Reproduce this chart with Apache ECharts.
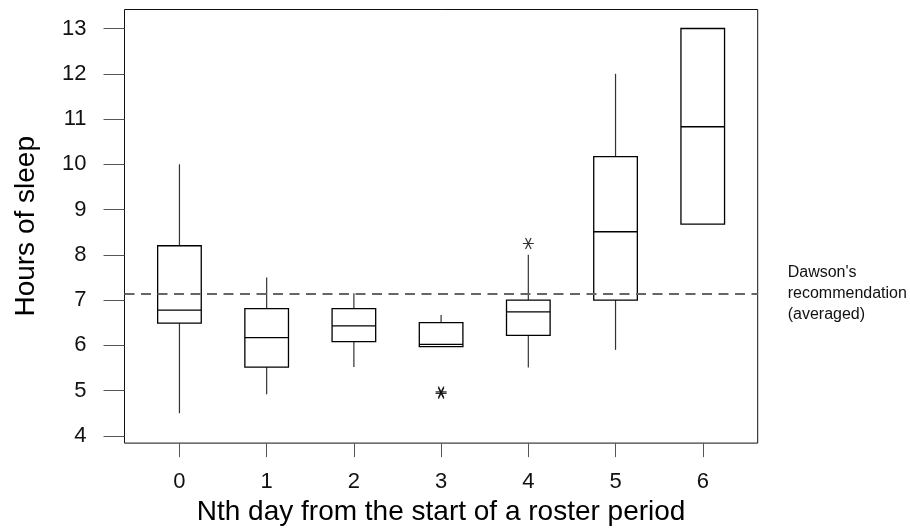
<!DOCTYPE html>
<html>
<head>
<meta charset="utf-8">
<script src="https://cdn.jsdelivr.net/npm/echarts@6/dist/echarts.min.js"></script>
<style>
  html, body { margin: 0; padding: 0; background: #fff; }
  #chart { width: 910px; height: 531px; }
</style>
</head>
<body>
<div id="chart"></div>
<script>
// box plot summaries (hours of sleep)
const days = [0, 1, 2, 3, 4, 5, 6]
const minVals = [4.5, 4.92, 5.52, 5.97, 5.51, 5.9, 8.68]
const q1Vals = [6.49, 5.52, 6.08, 5.97, 6.22, 7.0, 8.68]
const medianVals = [6.78, 6.17, 6.43, 6.02, 6.74, 8.51, 10.83]
const q3Vals = [8.2, 6.81, 6.81, 6.5, 7.0, 10.17, 13.0]
const maxVals = [10.0, 7.5, 7.15, 6.67, 8.0, 12.0, 13.0]
const outlierDays = [3, 3, 4]
const outlierVals = [4.94, 4.97, 8.25]
const recommendation = 7.14
const yTicks = [4, 5, 6, 7, 8, 9, 10, 11, 12, 13]

const font = 'Liberation Sans, Arial, sans-serif'
const boxData = days.map((d, i) => [d, minVals[i], q1Vals[i], medianVals[i], q3Vals[i], maxVals[i]])
const outlierData = outlierDays.map((d, i) => [d, outlierVals[i]])

// asterisk marker for outliers
const asterisk = 'path://M0 5 L10 5 M2.5 0.7 L7.5 9.3 M2.5 9.3 L7.5 0.7'

function renderBox (params, api) {
  const x = api.value(0)
  const lo = api.coord([x, api.value(1)])
  const q1 = api.coord([x, api.value(2)])
  const md = api.coord([x, api.value(3)])
  const q3 = api.coord([x, api.value(4)])
  const hi = api.coord([x, api.value(5)])
  const half = api.size([1, 0])[0] * 0.25
  const whisker = { stroke: '#333', lineWidth: 1.2 }
  const edge = { stroke: '#000', lineWidth: 1.3, fill: 'none' }
  return {
    type: 'group',
    children: [
      { type: 'line', shape: { x1: lo[0], y1: lo[1], x2: q1[0], y2: q1[1] }, style: whisker },
      { type: 'line', shape: { x1: q3[0], y1: q3[1], x2: hi[0], y2: hi[1] }, style: whisker },
      { type: 'rect', shape: { x: q1[0] - half, y: q3[1], width: half * 2, height: q1[1] - q3[1] }, style: edge },
      { type: 'line', shape: { x1: md[0] - half, y1: md[1], x2: md[0] + half, y2: md[1] }, style: edge }
    ]
  }
}

const option = {
  animation: false,
  backgroundColor: '#fff',
  textStyle: { fontFamily: font },
  grid: {
    left: 124.5,
    right: 152.3,
    top: 9.5,
    bottom: 87.7,
    show: true,
    borderColor: '#111',
    borderWidth: 1
  },
  xAxis: {
    type: 'value',
    min: -0.63,
    max: 6.63,
    name: 'Nth day from the start of a roster period',
    nameLocation: 'middle',
    nameGap: 52,
    nameTextStyle: { fontSize: 28, color: '#000', fontFamily: font },
    axisLine: { show: false, onZero: false },
    axisTick: { show: true, customValues: days, length: 14, lineStyle: { color: '#555', width: 1 } },
    axisLabel: { customValues: days, margin: 28, fontSize: 22, color: '#111', fontFamily: font },
    splitLine: { show: false }
  },
  yAxis: {
    type: 'value',
    min: 3.84,
    max: 13.42,
    name: 'Hours of sleep',
    nameLocation: 'middle',
    nameGap: 84,
    nameTextStyle: { fontSize: 28, color: '#000', fontFamily: font },
    axisLine: { show: false, onZero: false },
    axisTick: { show: true, customValues: yTicks, length: 21, lineStyle: { color: '#555', width: 1 } },
    axisLabel: { customValues: yTicks, margin: 38, fontSize: 22, color: '#111', fontFamily: font },
    splitLine: { show: false }
  },
  series: [
    {
      type: 'custom',
      name: 'sleep',
      renderItem: renderBox,
      encode: { x: 0, y: [1, 2, 3, 4, 5] },
      data: boxData,
      silent: true
    },
    {
      type: 'scatter',
      name: 'outliers',
      data: outlierData,
      symbol: asterisk,
      symbolSize: 11,
      itemStyle: { color: 'none', borderColor: '#000', borderWidth: 1.2 },
      silent: true,
      markLine: {
        silent: true,
        symbol: 'none',
        data: [{ yAxis: recommendation }],
        lineStyle: { type: [10, 6.5], color: '#666', width: 2 },
        label: {
          position: 'end',
          distance: 30,
          formatter: "Dawson's\nrecommendation\n(averaged)",
          fontSize: 16,
          lineHeight: 21,
          color: '#111',
          fontFamily: font,
          align: 'left'
        }
      }
    }
  ]
}

const chart = echarts.init(document.getElementById('chart'))
chart.setOption(option)
</script>
</body>
</html>
